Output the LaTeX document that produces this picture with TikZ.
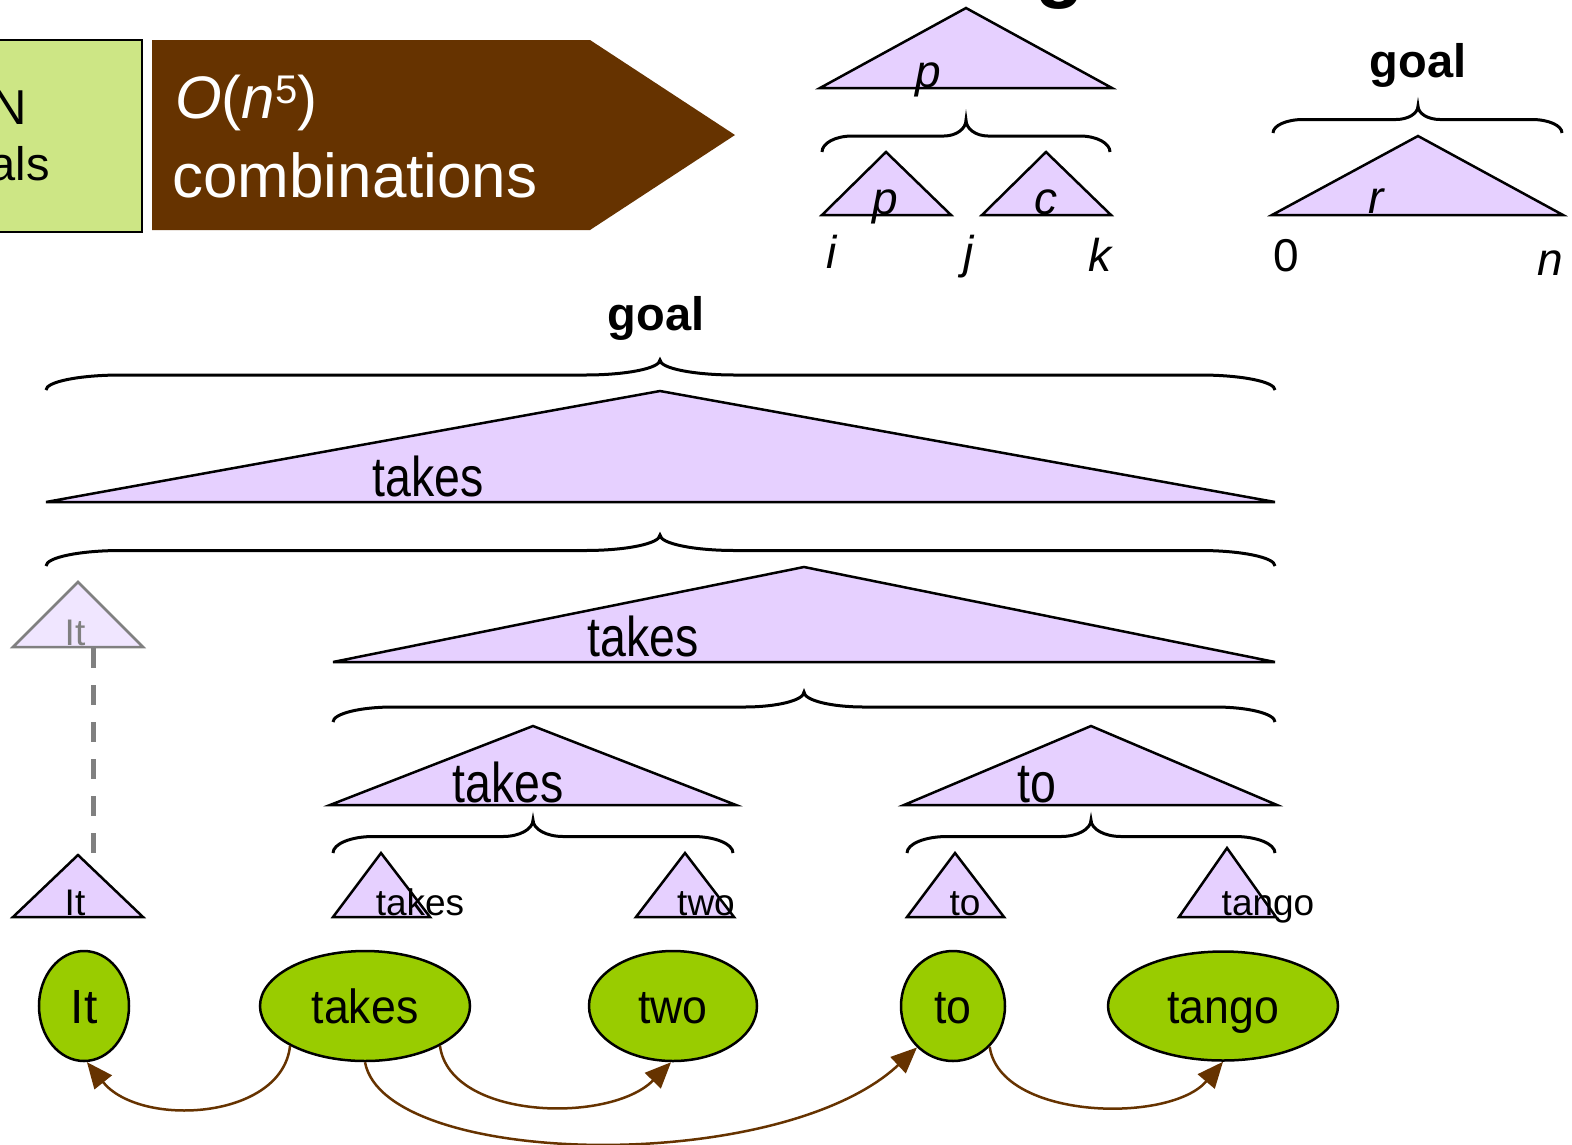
\documentclass[tikz,border=0pt]{standalone}
\usepackage{fontspec}
\usepackage{graphicx}
\setmainfont{Liberation Sans}
\usetikzlibrary{shapes.geometric,arrows.meta}
\definecolor{trifill}{RGB}{230,208,255}
\definecolor{trifade}{RGB}{240,230,255}
\definecolor{fadegray}{RGB}{128,128,128}
\definecolor{wordgreen}{RGB}{153,204,0}
\definecolor{boxgreen}{RGB}{205,230,133}
\definecolor{depbrown}{RGB}{102,51,0}
\newcommand{\hs}[2]{\scalebox{#1}[1]{#2}}
\newcommand{\fs}[1]{\fontsize{#1}{#1}\selectfont}
% x1, x2, xm, ytip, h, c, d
\newcommand{\mybrace}[7]{%
  \draw[bracestyle] (#1,{#4+#5}) .. controls (#1,{#4+#5-0.552*#5/2}) and ({#1+0.448*#6},{#4+#5/2}) .. ({#1+#6},{#4+#5/2})
   -- ({#3-#7},{#4+#5/2}) .. controls ({#3-0.448*#7},{#4+#5/2}) and (#3,{#4+0.552*#5/2}) .. (#3,#4)
   .. controls (#3,{#4+0.552*#5/2}) and ({#3+0.448*#7},{#4+#5/2}) .. ({#3+#7},{#4+#5/2})
   -- ({#2-#6},{#4+#5/2}) .. controls ({#2-0.448*#6},{#4+#5/2}) and (#2,{#4+#5-0.552*#5/2}) .. (#2,{#4+#5});}
\begin{document}
\begin{tikzpicture}[x=1pt,y=-1pt,
  tri/.style={fill=trifill,draw=black,line width=2.5pt,line join=miter},
  trif/.style={fill=trifade,draw=fadegray,line width=2.5pt,line join=miter},
  lbl/.style={anchor=base,inner sep=0pt,outer sep=0pt},
  bracestyle/.style={line width=3pt},
  word/.style={ellipse,draw=black,line width=2.5pt,fill=wordgreen,inner sep=0pt,
    text height=35pt,text depth=0pt,font=\fs{48}},
  dep/.style={draw=depbrown,line width=2.5pt,-{Triangle[length=26pt,width=22pt]}},
  fadeline/.style={draw=fadegray,line width=5pt,dash pattern=on 20pt off 17pt}]
\useasboundingbox (0,0) rectangle (1572,1144);
\fill[white] (0,0) rectangle (1572,1144);

% top-left boxes
\draw[fill=boxgreen,line width=2.5pt] (-10,40) rectangle (142,232);
\node[anchor=base east,inner sep=0pt] (tN) at (27,124) {\fs{49}N};
\node[anchor=base east,inner sep=0pt] (tals) at (50,180) {\fs{47}als};
\fill[depbrown] (152,40) -- (590,40) -- (735,135) -- (590,230) -- (152,230) -- cycle;
\node[anchor=base west,inner sep=0pt,text=white] (tO) at (175,118) {\fs{60}\itshape O\upshape(\itshape n\upshape\raisebox{15pt}{\fs{40}5})};
\node[anchor=base west,inner sep=0pt,text=white] (tcomb) at (172,197) {\fs{62}combinations};

% cut-off title glyph
\node[lbl,font=\bfseries] (gfrag) at (1060,-8) {\fs{80}g};

% top-middle rule picture
\draw[tri] (820,88) -- (966,8) -- (1112,88) -- cycle;
\node[lbl] (lp) at (928,87) {\fs{46}\itshape p};
\mybrace{822}{1110}{966}{120}{32}{30}{22}
\draw[tri] (822,215) -- (886,152) -- (951,215) -- cycle;
\draw[tri] (982,215) -- (1046,152) -- (1111,215) -- cycle;
\node[lbl] (lp2) at (885,214) {\fs{46}\itshape p};
\node[lbl] (lc) at (1046,214) {\fs{46}\itshape c};
\node[lbl] (li) at (832,268) {\fs{46}\itshape i};
\node[lbl] (lj) at (969,268) {\fs{46}\itshape j};
\node[lbl] (lk) at (1100,271) {\fs{46}\itshape k};

% top-right goal picture
\node[lbl,font=\bfseries] (goalA) at (1418,77) {\fs{47}goal};
\mybrace{1273}{1562}{1418}{106}{27}{30}{22}
\draw[tri] (1272,215) -- (1418,136) -- (1563,215) -- cycle;
\node[lbl] (lr) at (1376,213) {\fs{46}\itshape r};
\node[lbl] (l0) at (1286,271) {\fs{46}0};
\node[lbl] (ln) at (1550,275) {\fs{46}\itshape n};

% main tree
\node[lbl,font=\bfseries] (goalB) at (656,330) {\fs{47}goal};
\mybrace{46}{1275}{660}{360}{30}{75}{75}
\draw[tri] (46,502) -- (660,391) -- (1275,502) -- cycle;
\node[lbl] (lt1) at (428,496) {\fs{56}\hs{0.83}{takes}};
\mybrace{46}{1275}{660}{535}{31}{75}{75}
\draw[tri] (333,662) -- (804,567) -- (1275,662) -- cycle;
\node[lbl] (lt2) at (643,656) {\fs{56}\hs{0.83}{takes}};
\mybrace{333}{1275}{804}{692}{30}{60}{60}
\draw[tri] (330,805) -- (533,726) -- (736,805) -- cycle;
\draw[tri] (904,805) -- (1091,726) -- (1277,805) -- cycle;
\node[lbl] (lt3) at (508,802) {\fs{56}\hs{0.83}{takes}};
\node[lbl] (lto3) at (1037,802) {\fs{56}\hs{0.83}{to}};
\mybrace{333}{733}{533}{820}{33}{40}{30}
\mybrace{907}{1275}{1091}{820}{33}{40}{30}

% faded It
\draw[trif] (13,647) -- (78,582) -- (143,647) -- cycle;
\node[lbl,text=fadegray] (lItF) at (75,645) {\fs{37}It};
\coordinate (itF) at (93,648);
\coordinate (itS) at (93,855);
\draw[fadeline] (itF) -- (itS);

% leaf triangles
\draw[tri] (13,917) -- (78,855) -- (143,917) -- cycle;
\draw[tri] (333,917) -- (381,853) -- (430,917) -- cycle;
\draw[tri] (636,917) -- (685,853) -- (734,917) -- cycle;
\draw[tri] (907,917) -- (955,853) -- (1004,917) -- cycle;
\draw[tri] (1179,917) -- (1227,848) -- (1276,917) -- cycle;
\node[lbl] (sIt) at (75,915) {\fs{37}It};
\node[lbl] (stakes) at (420,915) {\fs{37}takes};
\node[lbl] (stwo) at (706,915) {\fs{37}two};
\node[lbl] (sto) at (965,915) {\fs{37}to};
\node[lbl] (stango) at (1268,915) {\fs{37}tango};

% words
\node[word,minimum width=90pt,minimum height=110pt] (wIt) at (84,1006) {It};
\node[word,minimum width=210pt,minimum height=110pt] (wtakes) at (365,1006) {\hs{0.93}{takes}};
\node[word,minimum width=168pt,minimum height=110pt] (wtwo) at (673,1006) {\hs{0.93}{two}};
\node[word,minimum width=104pt,minimum height=110pt] (wto) at (953,1006) {\hs{0.93}{to}};
\node[word,minimum width=230pt,minimum height=109pt] (wtango) at (1223,1006) {\hs{0.93}{tango}};

% dependency arcs
\draw[dep] (wtakes.-152) .. controls (282,1120) and (140,1128) .. (wIt.-87);
\draw[dep] (wtakes.-28) .. controls (450,1120) and (610,1124) .. (wtwo.-92);
\draw[dep] (wtakes.south) .. controls (385,1168) and (780,1176) .. (wto.-131);
\draw[dep] (wto.-48) .. controls (1000,1120) and (1170,1124) .. (wtango.-90);
\end{tikzpicture}
\end{document}
